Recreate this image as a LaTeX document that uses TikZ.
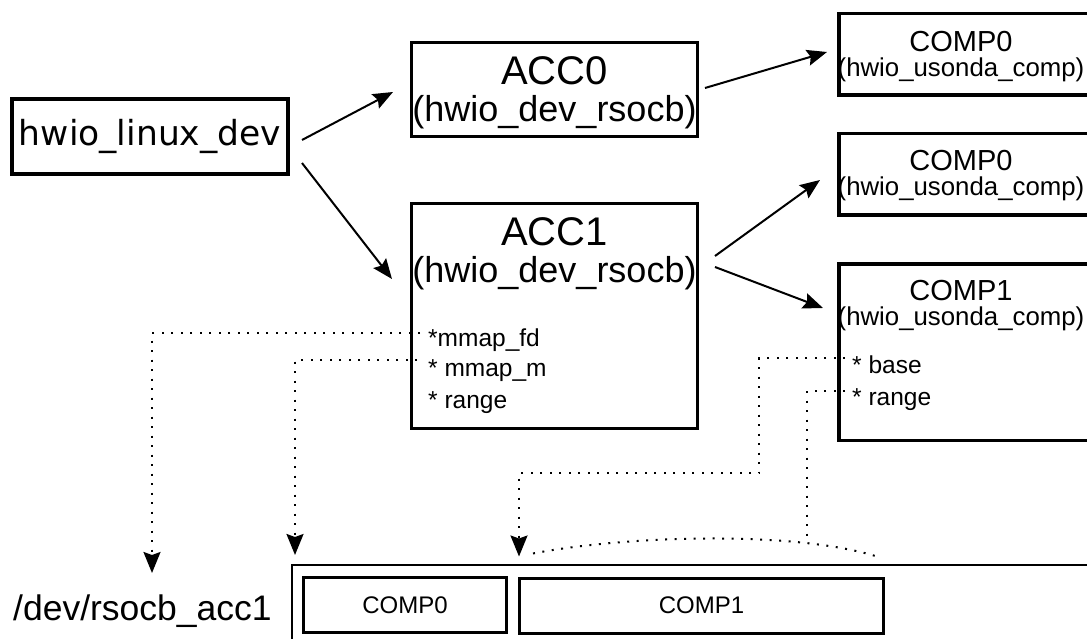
\documentclass[tikz,border=0pt]{standalone}
\usepackage{fontspec}
\setmainfont{Liberation Sans}
\newfontfamily\verafont{DejaVu Sans}
\usetikzlibrary{arrows.meta}
\tikzstyle{devbox} = [rectangle, draw=black, line width=4pt, inner sep=0pt, minimum width=276pt, minimum height=75pt, font=\verafont\fontsize{34.5}{36}\selectfont]
\tikzstyle{accbox} = [rectangle, draw=black, line width=3pt, inner sep=0pt, minimum width=286pt]
\tikzstyle{compbox} = [rectangle, draw=black, line width=3.5pt, inner sep=0pt, minimum width=249.5pt]
\tikzstyle{membox} = [rectangle, draw=black, line width=2pt, inner sep=0pt, minimum width=836pt, minimum height=150pt]
\tikzstyle{slot} = [rectangle, draw=black, line width=3pt, inner sep=0pt, minimum height=55pt, font=\fontsize{24}{26}\selectfont]
\tikzstyle{acctitle} = [anchor=base, inner sep=0pt, font=\fontsize{40}{42}\selectfont]
\tikzstyle{acctype} = [anchor=base, inner sep=0pt, font=\fontsize{36}{38}\selectfont]
\tikzstyle{comptitle} = [anchor=base, inner sep=0pt, font=\fontsize{29}{31}\selectfont]
\tikzstyle{comptype} = [anchor=base, inner sep=0pt, font=\fontsize{25.8}{28}\selectfont]
\tikzstyle{field} = [anchor=base west, inner sep=0pt, font=\fontsize{24.5}{27}\selectfont]
\tikzstyle{arrow} = [line width=2pt, -{Stealth[length=20pt, width=16pt, inset=3pt]}]
\tikzstyle{ptr} = [line width=2pt, dash pattern=on 2pt off 7.5pt, -{Stealth[length=21pt, width=17pt, inset=3pt]}]
\tikzstyle{ptrline} = [line width=2pt, dash pattern=on 2pt off 7.5pt]

\begin{document}
\begin{tikzpicture}[x=1pt, y=-1pt]
\useasboundingbox (0,0) rectangle (1087,639);

% Nodes
\node (linux) [devbox] at (150,136.5) {hwio\_linux\_dev};

\node (acc0) [accbox, minimum height=94pt] at (554.5,89.5) {};
\node (acc0name) [acctitle] at (554.5,85) {ACC0};
\node (acc0type) [acctype] at (554.5,122) {(hwio\_dev\_rsocb)};

\node (acc1) [accbox, minimum height=225pt] at (554.5,316) {};
\node (acc1name) [acctitle] at (554.5,245) {ACC1};
\node (acc1type) [acctype] at (554.5,282) {(hwio\_dev\_rsocb)};
\node (mmapfd) [field] at (428,346) {*mmap\_fd};
\node (mmapm) [field] at (428,376) {* mmap\_m};
\node (accrange) [field] at (428,408) {* range};

\node (comp0a) [compbox, minimum height=81.5pt] at (963.5,54.5) {};
\node (comp0aname) [comptitle] at (961,52) {COMP0};
\node (comp0atype) [comptype] at (961,77) {(hwio\_usonda\_comp)};

\node (comp0b) [compbox, minimum height=81.5pt] at (963.5,174.5) {};
\node (comp0bname) [comptitle] at (961,171) {COMP0};
\node (comp0btype) [comptype] at (961,196) {(hwio\_usonda\_comp)};

\node (comp1) [compbox, minimum height=176.5pt] at (963.5,352) {};
\node (comp1name) [comptitle] at (961,300) {COMP1};
\node (comp1type) [comptype] at (961,325) {(hwio\_usonda\_comp)};
\node (compbase) [field] at (852,373) {* base};
\node (comprange) [field] at (852,405) {* range};

\node (devfile) [anchor=base west, inner sep=0pt, font=\fontsize{35.5}{38}\selectfont] at (13,620) {/dev/rsocb\_acc1};
\node (mem) [membox] at (710,640) {};
\node (slot0) [slot, minimum width=203pt] at (405,605) {COMP0};
\node (slot1) [slot, minimum width=364pt] at (701.5,605.5) {COMP1};

% Arrows
\draw [arrow] ([xshift=12pt,yshift=-3.5pt]linux.east) -- ([xshift=-17pt,yshift=-2.5pt]acc0.west);
\draw [arrow] ([xshift=12pt,yshift=-26.5pt]linux.east) -- ([xshift=-18pt,yshift=37pt]acc1.west);
\draw [arrow] ([xshift=6pt,yshift=1.5pt]acc0.east) -- ([xshift=-10pt,yshift=2.5pt]comp0a.west);
\draw [arrow] ([xshift=16pt,yshift=60pt]acc1.east) -- ([xshift=-17pt,yshift=-5.5pt]comp0b.west);
\draw [arrow] ([xshift=16pt,yshift=49pt]acc1.east) -- ([xshift=-14pt,yshift=44pt]comp1.west);

% Dotted pointers
\draw [ptr] ([xshift=-8pt,yshift=13pt]mmapfd.base west) -| ([xshift=139pt,yshift=47pt]devfile.base west);
\draw [ptr] ([xshift=-11pt,yshift=16pt]mmapm.base west) -| ([xshift=4pt,yshift=9pt]mem.north west);
\draw [ptr] ([xshift=-7pt,yshift=15pt]compbase.base west) -- ++(-86,0) -- ++(0,115) -| ([xshift=1pt,yshift=20pt]slot1.north west);
\draw [ptrline] ([xshift=-7pt,yshift=14pt]comprange.base west) -- ++(-38,0) -- ++(0,150);

% Span over COMP1
\draw [ptrline] ([xshift=15pt,yshift=23pt]slot1.north west) .. controls +(87,-17) and +(-87,-27) .. ([xshift=-8pt,yshift=20pt]slot1.north east);

\end{tikzpicture}
\end{document}
